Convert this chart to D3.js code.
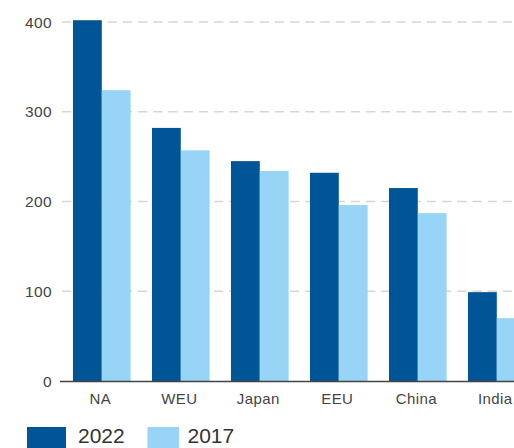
<!DOCTYPE html>
<html><head><meta charset="utf-8">
<script src="https://cdn.jsdelivr.net/npm/d3@7"></script>
<style>body{margin:0;background:#fff;overflow:hidden}svg{display:block;font-family:"Liberation Sans",Arial,sans-serif}</style>
</head><body>
<svg id="c" width="514" height="448"></svg>
<script>
const categories = ["NA","WEU","Japan","EEU","China","India"];
const series = ["2022","2017"];
const values2022 = [402, 282, 245, 232, 215, 99];
const values2017 = [324, 257, 234, 196, 187, 70];
const yTicks = [0,100,200,300,400];
const colors = ["#005596","#97d4f6"];

const svg = d3.select("#c");
const y = d3.scaleLinear().domain([0,400]).range([381,22]);
const x = d3.scaleBand().domain(categories).range([62.3,536.3]).paddingInner(0.27).paddingOuter(0.135);
const xs = d3.scaleBand().domain(series).range([0,x.bandwidth()]);

// grid
svg.append("g").selectAll("line").data(yTicks.filter(d=>d>0)).join("line")
  .attr("x1",62).attr("x2",514).attr("y1",d=>y(d)).attr("y2",d=>y(d))
  .attr("stroke","#d6d6d6").attr("stroke-width",1.6).attr("stroke-dasharray","9.3,5.9");

// y labels
svg.append("g").selectAll("text").data(yTicks).join("text")
  .attr("x",52).attr("y",d=>y(d)).attr("dy","0.36em").attr("text-anchor","end")
  .attr("font-size",15.5).attr("letter-spacing",0.4).attr("fill","#444").text(d=>d);

const data = categories.map((c,i)=>({c, v:[values2022[i], values2017[i]]}));
const g = svg.append("g").selectAll("g").data(data).join("g").attr("transform",d=>`translate(${x(d.c)},0)`);
g.selectAll("rect").data(d=>d.v.map((v,j)=>({s:series[j],v,j}))).join("rect")
  .attr("x",d=>xs(d.s)).attr("width",xs.bandwidth()).attr("y",d=>y(d.v)).attr("height",d=>y(0)-y(d.v))
  .attr("fill",d=>colors[d.j]);

// axis line
svg.append("line").attr("x1",60).attr("x2",514).attr("y1",381.5).attr("y2",381.5).attr("stroke","#444").attr("stroke-width",1.5);

// x labels
svg.append("g").selectAll("text").data(categories).join("text")
  .attr("x",d=>x(d)+x.bandwidth()/2-1.5).attr("y",403.5).attr("text-anchor","middle")
  .attr("font-size",15).attr("letter-spacing",0.4).attr("fill","#444").text(d=>d);

// legend
const leg = [{s:"2022",rx:27,rw:39,tx:78},{s:"2017",rx:147.5,rw:31.5,tx:187.5}];
leg.forEach((l,i)=>{
  svg.append("rect").attr("x",l.rx).attr("y",427).attr("width",l.rw).attr("height",25).attr("fill",colors[i]);
  svg.append("text").attr("x",l.tx).attr("y",443).attr("font-size",21).attr("fill","#333").text(l.s);
});
</script>
</body></html>
